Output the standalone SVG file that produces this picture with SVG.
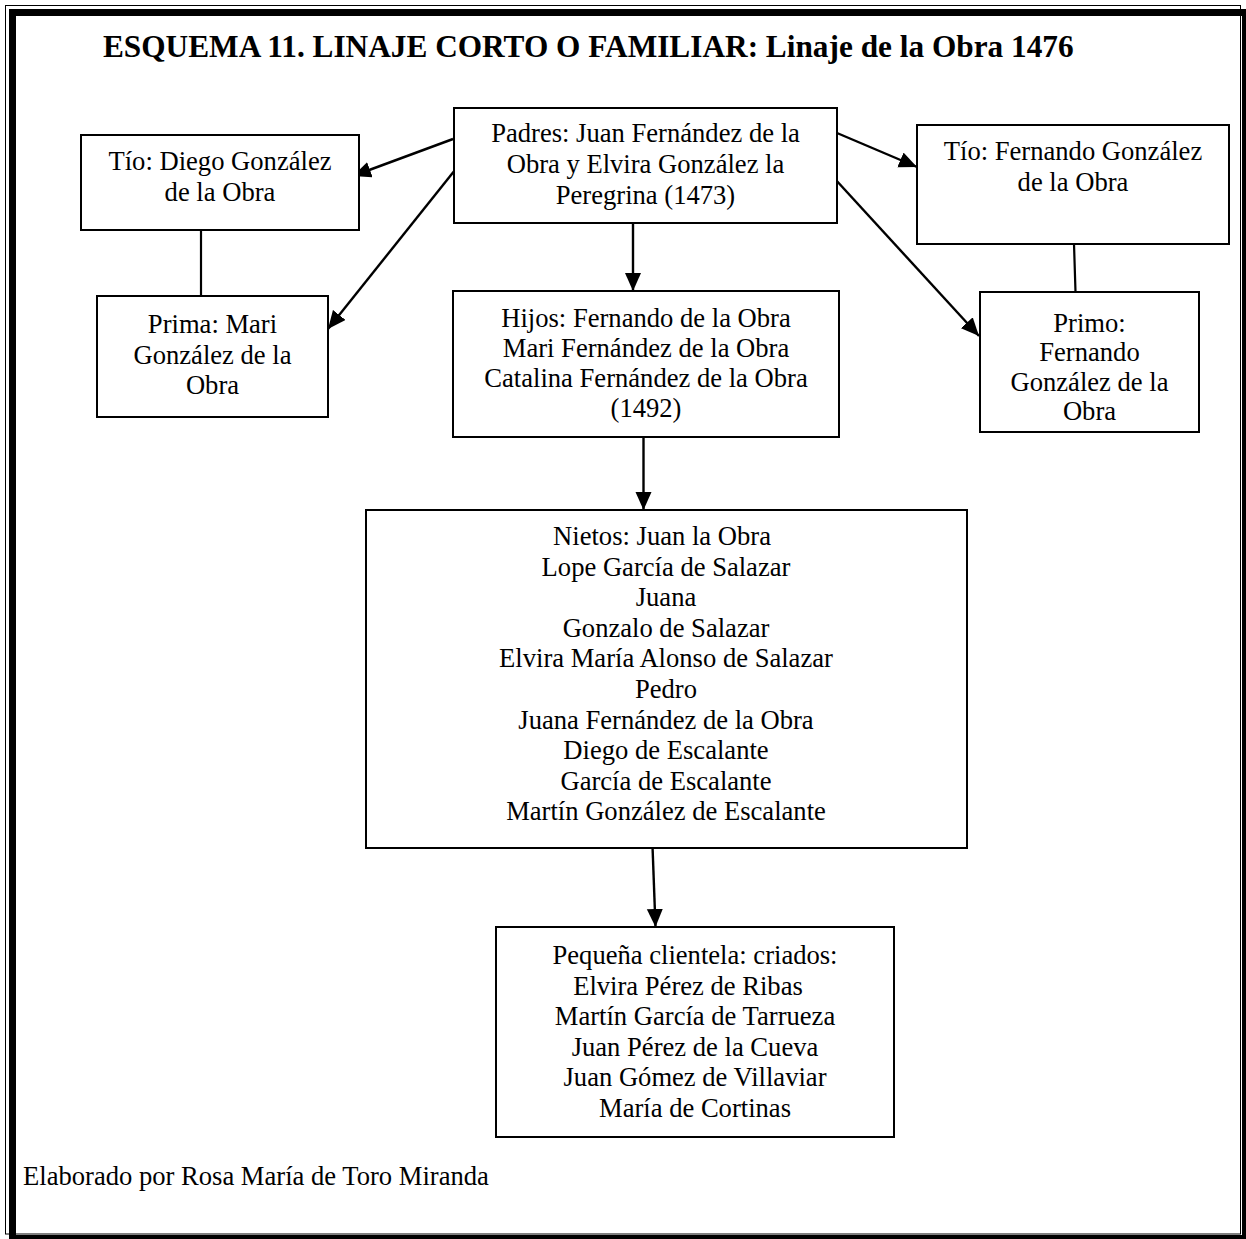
<svg xmlns="http://www.w3.org/2000/svg" width="1246" height="1239" viewBox="0 0 1246 1239">
  <style>
    .box { fill: #ffffff; stroke: #000000; stroke-width: 2; }
    .txt { font-family: "Liberation Serif", "Times New Roman", serif; font-size: 26.6px; fill: #000000; text-anchor: middle; }
    .title { font-family: "Liberation Serif", "Times New Roman", serif; font-size: 31.3px; font-weight: bold; fill: #000000; }
    .foot { font-family: "Liberation Serif", "Times New Roman", serif; font-size: 26.6px; fill: #000000; }
    .link { stroke: #000000; stroke-width: 2.2; fill: none; }
    .arrow { stroke: #000000; stroke-width: 2.4; fill: none; marker-end: url(#head); }
  </style>
  <defs>
    <marker id="head" markerUnits="userSpaceOnUse" markerWidth="19" markerHeight="17" refX="18" refY="8" orient="auto">
      <path d="M0,0 L18,8 L0,16 Z" fill="#000000"/>
    </marker>
  </defs>

  <rect x="0" y="0" width="1246" height="1239" fill="#ffffff"/>

  <!-- page frame: thin outer rule plus heavy inner rule -->
  <g id="frame" fill="none" stroke="#000000">
    <rect x="5.5" y="5.5" width="1235" height="1228.5" stroke-width="1"/>
    <rect x="12.5" y="12.5" width="1233" height="1226" stroke-width="7"/>
  </g>

  <text id="title" class="title" x="103" y="57">ESQUEMA 11. LINAJE CORTO O FAMILIAR: Linaje de la Obra 1476</text>

  <!-- connectors -->
  <g id="connectors">
    <line class="arrow" x1="453" y1="139" x2="353" y2="176"/>
    <line class="arrow" x1="455" y1="170" x2="328" y2="329"/>
    <line class="arrow" x1="837" y1="133" x2="917" y2="167"/>
    <line class="arrow" x1="835" y1="179" x2="979" y2="336"/>
    <line class="arrow" x1="633" y1="223" x2="633" y2="291"/>
    <line class="arrow" x1="643.5" y1="437" x2="643.5" y2="510"/>
    <line class="arrow" x1="652.5" y1="846" x2="655.5" y2="927"/>
    <line class="link" x1="201" y1="230" x2="201" y2="296"/>
    <line class="link" x1="1074" y1="244" x2="1075.5" y2="292"/>
  </g>

  <g id="tio-diego">
    <rect class="box" x="81" y="135" width="278" height="95"/>
    <text class="txt" x="220" y="170">Tío: Diego González</text>
    <text class="txt" x="220" y="201">de la Obra</text>
  </g>

  <g id="padres">
    <rect class="box" x="454" y="108" width="383" height="115"/>
    <text class="txt" x="645.5" y="142">Padres: Juan Fernández de la</text>
    <text class="txt" x="645.5" y="173">Obra y Elvira González la</text>
    <text class="txt" x="645.5" y="204">Peregrina (1473)</text>
  </g>

  <g id="tio-fernando">
    <rect class="box" x="917" y="125" width="312" height="119"/>
    <text class="txt" x="1073" y="160">Tío: Fernando González</text>
    <text class="txt" x="1073" y="191">de la Obra</text>
  </g>

  <g id="prima">
    <rect class="box" x="97" y="296" width="231" height="121"/>
    <text class="txt" x="212.5" y="333">Prima: Mari</text>
    <text class="txt" x="212.5" y="364">González de la</text>
    <text class="txt" x="212.5" y="394">Obra</text>
  </g>

  <g id="hijos">
    <rect class="box" x="453" y="291" width="386" height="146"/>
    <text class="txt" x="646" y="327">Hijos: Fernando de la Obra</text>
    <text class="txt" x="646" y="357">Mari Fernández de la Obra</text>
    <text class="txt" x="646" y="387">Catalina Fernández de la Obra</text>
    <text class="txt" x="646" y="417">(1492)</text>
  </g>

  <g id="primo">
    <rect class="box" x="980" y="292" width="219" height="140"/>
    <text class="txt" x="1089.5" y="332">Primo:</text>
    <text class="txt" x="1089.5" y="361">Fernando</text>
    <text class="txt" x="1089.5" y="391">González de la</text>
    <text class="txt" x="1089.5" y="420">Obra</text>
  </g>

  <g id="nietos">
    <rect class="box" x="366" y="510" width="601" height="338"/>
    <text class="txt" x="662" y="545">Nietos: Juan la Obra</text>
    <text class="txt" x="666" y="575.6">Lope García de Salazar</text>
    <text class="txt" x="666" y="606.2">Juana</text>
    <text class="txt" x="666" y="636.8">Gonzalo de Salazar</text>
    <text class="txt" x="666" y="667.4">Elvira María Alonso de Salazar</text>
    <text class="txt" x="666" y="698">Pedro</text>
    <text class="txt" x="666" y="728.6">Juana Fernández de la Obra</text>
    <text class="txt" x="666" y="759.2">Diego de Escalante</text>
    <text class="txt" x="666" y="789.8">García de Escalante</text>
    <text class="txt" x="666" y="820.4">Martín González de Escalante</text>
  </g>

  <g id="clientela">
    <rect class="box" x="496" y="927" width="398" height="210"/>
    <text class="txt" x="695" y="964">Pequeña clientela: criados:</text>
    <text class="txt" x="688" y="994.6">Elvira Pérez de Ribas</text>
    <text class="txt" x="695" y="1025.2">Martín García de Tarrueza</text>
    <text class="txt" x="695" y="1055.8">Juan Pérez de la Cueva</text>
    <text class="txt" x="695" y="1086.4">Juan Gómez de Villaviar</text>
    <text class="txt" x="695" y="1117">María de Cortinas</text>
  </g>

  <text id="footer" class="foot" x="23" y="1185">Elaborado por Rosa María de Toro Miranda</text>
</svg>
